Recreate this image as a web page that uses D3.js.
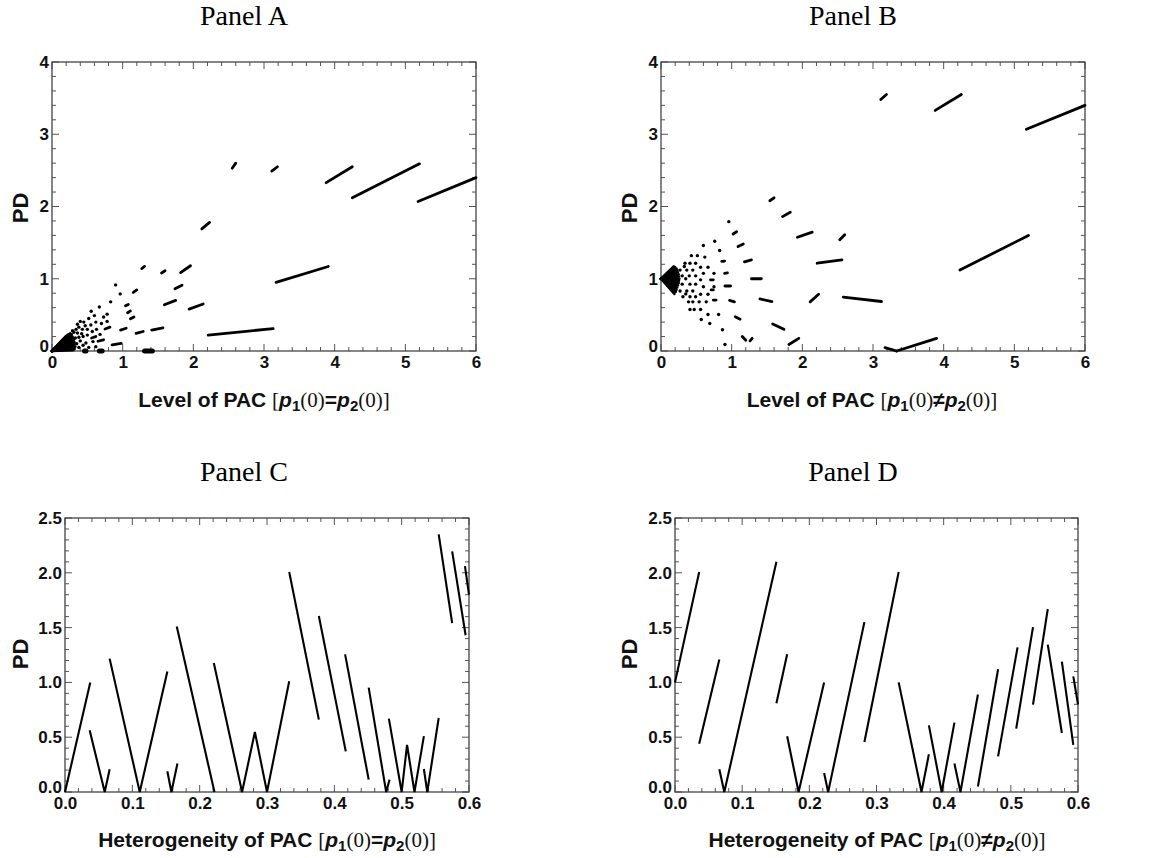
<!DOCTYPE html>
<html>
<head>
<meta charset="utf-8">
<script src="https://cdn.jsdelivr.net/npm/d3@7"></script>
<style>
  body { margin: 0; background: #fff; }
  svg { display: block; }
</style>
</head>
<body>
<svg id="chart" width="1150" height="858"></svg>
<script>
// ---- data ----

// Panel A: segments [x1, y1, x2, y2], dots [x, y], fan end points (rays from 0,0), blobs on the axis
const aSegments = [
  [2.55, 2.53, 2.60, 2.60], [3.11, 2.49, 3.19, 2.55], [3.88, 2.33, 4.25, 2.55],
  [4.25, 2.12, 5.20, 2.59], [5.18, 2.07, 6.00, 2.40], [2.12, 1.69, 2.23, 1.78],
  [3.17, 0.95, 3.91, 1.17], [2.21, 0.22, 3.13, 0.31], [1.82, 1.085, 1.96, 1.18],
  [1.55, 1.08, 1.60, 1.11], [1.27, 1.14, 1.31, 1.17], [1.74, 0.86, 1.84, 0.91],
  [1.59, 0.64, 1.75, 0.70], [1.94, 0.58, 2.14, 0.65], [1.41, 0.29, 1.57, 0.32],
  [1.19, 0.245, 1.29, 0.27], [0.97, 0.29, 1.05, 0.315], [0.75, 0.305, 0.82, 0.33],
  [0.85, 0.085, 0.98, 0.105], [0.65, 0.135, 0.73, 0.155], [1.15, 0.81, 1.20, 0.845],
  [1.04, 0.625, 1.08, 0.645], [1.07, 0.53, 1.11, 0.555], [1.11, 0.445, 1.16, 0.47],
  [0.56, 0.18, 0.62, 0.20]
];
const aBlobs = [[1.31, 0, 1.42, 0], [0.67, 0, 0.71, 0], [0.46, 0, 0.48, 0]];
const aDots = [
  [0.90, 0.915], [0.965, 0.79], [0.83, 0.68], [0.67, 0.61], [0.555, 0.55], [0.40, 0.41],
  [0.45, 0.40], [0.78, 0.51], [0.73, 0.47], [0.60, 0.49], [0.52, 0.45], [0.47, 0.35],
  [0.38, 0.33], [0.43, 0.30], [0.78, 0.41], [0.70, 0.38], [0.62, 0.40], [0.55, 0.36],
  [0.50, 0.30], [0.57, 0.27], [0.63, 0.30], [0.68, 0.23], [0.58, 0.13], [0.50, 0.22],
  [0.44, 0.20], [0.40, 0.14], [0.48, 0.11], [0.36, 0.25], [0.33, 0.18], [0.52, 0.05],
  [0.38, 0.05], [0.62, 0.06], [0.34, 0.30], [0.42, 0.24], [0.36, 0.37], [0.31, 0.26],
  [0.38, 0.19], [0.35, 0.10], [0.44, 0.08], [0.29, 0.28]
];
const aFan = [
  [0.20, 0.21], [0.23, 0.23], [0.26, 0.245], [0.28, 0.23], [0.29, 0.20], [0.30, 0.18],
  [0.31, 0.15], [0.32, 0.12], [0.32, 0.09], [0.33, 0.06], [0.32, 0.03], [0.30, 0.01],
  [0.25, 0.20], [0.27, 0.14], [0.28, 0.08]
];

// Panel B
const bSegments = [
  [3.11, 3.48, 3.19, 3.55], [3.88, 3.33, 4.25, 3.55], [5.17, 3.07, 6.00, 3.40],
  [4.23, 1.12, 5.20, 1.60], [1.54, 2.08, 1.60, 2.12], [1.72, 1.86, 1.83, 1.92],
  [1.93, 1.575, 2.14, 1.645], [2.53, 1.54, 2.60, 1.61], [2.21, 1.215, 2.56, 1.26],
  [2.58, 0.745, 3.12, 0.685], [2.11, 0.68, 2.23, 0.785], [1.40, 0.72, 1.57, 0.685],
  [1.58, 0.375, 1.74, 0.30], [1.81, 0.09, 1.95, 0.175], [3.17, 0.046, 3.335, 0],
  [3.335, 0, 3.90, 0.175], [1.28, 1.00, 1.42, 1.00], [1.18, 1.235, 1.28, 1.26],
  [1.09, 1.445, 1.165, 1.48], [1.02, 1.62, 1.07, 1.65], [1.15, 0.20, 1.20, 0.15],
  [1.26, 0.14, 1.29, 0.175], [0.905, 0.90, 0.985, 0.90], [0.97, 0.70, 1.04, 0.68],
  [1.05, 0.475, 1.12, 0.44], [0.86, 1.24, 0.90, 1.245], [0.90, 1.075, 0.94, 1.08],
  [0.70, 0.985, 0.74, 0.985], [0.74, 0.705, 0.78, 0.705], [0.71, 0.845, 0.74, 0.845]
];
const bDots = [
  [0.96, 1.79], [0.76, 1.52], [0.60, 1.46], [0.83, 1.39], [0.43, 1.32], [0.515, 1.32],
  [0.62, 1.30], [0.34, 1.215], [0.41, 1.215], [0.49, 1.215], [0.56, 1.16], [0.665, 1.16],
  [0.27, 1.12], [0.365, 1.12], [0.45, 1.12], [0.60, 1.075], [0.75, 1.075], [0.30, 1.04],
  [0.40, 1.04], [0.49, 1.04], [0.56, 0.985], [0.30, 0.925], [0.41, 0.925], [0.49, 0.925],
  [0.60, 0.89], [0.75, 0.89], [0.27, 0.83], [0.365, 0.83], [0.45, 0.83], [0.56, 0.785],
  [0.665, 0.785], [0.31, 0.75], [0.41, 0.75], [0.49, 0.75], [0.39, 0.68], [0.45, 0.68],
  [0.54, 0.68], [0.64, 0.68], [0.41, 0.575], [0.47, 0.575], [0.56, 0.575], [0.665, 0.505],
  [0.815, 0.505], [0.57, 0.435], [0.69, 0.38], [0.87, 0.295], [0.905, 0.09],
  [0.33, 1.17], [0.35, 0.79], [0.35, 1.00]
];
const bFan = [
  [0.19, 0.79], [0.21, 0.82], [0.22, 0.85], [0.23, 0.88], [0.24, 0.91], [0.25, 0.94],
  [0.255, 0.97], [0.26, 1.00], [0.255, 1.03], [0.25, 1.06], [0.24, 1.09], [0.23, 1.12],
  [0.22, 1.14], [0.20, 1.16], [0.18, 1.17]
];

// Panel C and D: polylines of [x, y]
const cLines = [
  [[0, 0], [0.0375, 1.0]],
  [[0.0366, 0.563], [0.059, 0], [0.0663, 0.207]],
  [[0.0663, 1.217], [0.111, 0], [0.152, 1.10]],
  [[0.152, 0.19], [0.158, 0], [0.167, 0.26]],
  [[0.166, 1.51], [0.222, 0]],
  [[0.221, 1.177], [0.263, 0], [0.282, 0.547], [0.30, 0], [0.333, 1.01]],
  [[0.333, 2.007], [0.377, 0.66]],
  [[0.377, 1.606], [0.417, 0.371]],
  [[0.416, 1.256], [0.451, 0.113]],
  [[0.451, 0.952], [0.477, 0], [0.482, 0.113]],
  [[0.481, 0.67], [0.50, 0], [0.508, 0.43], [0.519, 0], [0.533, 0.51]],
  [[0.533, 0.21], [0.538, 0], [0.555, 0.675]],
  [[0.555, 2.35], [0.575, 1.54]],
  [[0.575, 2.196], [0.595, 1.43]],
  [[0.594, 2.06], [0.60, 1.80]]
];
const dLines = [
  [[0, 1.0], [0.036, 2.007]],
  [[0.036, 0.44], [0.066, 1.21]],
  [[0.066, 0.207], [0.0734, 0], [0.151, 2.10]],
  [[0.151, 0.81], [0.167, 1.256]],
  [[0.167, 0.508], [0.184, 0], [0.222, 1.0]],
  [[0.222, 0.173], [0.228, 0], [0.282, 1.55]],
  [[0.282, 0.456], [0.333, 2.007]],
  [[0.333, 1.0], [0.367, 0], [0.378, 0.344]],
  [[0.378, 0.608], [0.397, 0], [0.416, 0.633]],
  [[0.416, 0.26], [0.425, 0], [0.451, 0.89]],
  [[0.451, 0.05], [0.481, 1.12]],
  [[0.481, 0.325], [0.51, 1.32]],
  [[0.508, 0.578], [0.533, 1.505]],
  [[0.533, 0.797], [0.555, 1.67]],
  [[0.555, 1.344], [0.576, 0.538]],
  [[0.576, 1.19], [0.593, 0.43]],
  [[0.593, 1.055], [0.60, 0.80]]
];

const levelTicks = [0, 1, 2, 3, 4, 5, 6];
const levelYTicks = [0, 1, 2, 3, 4];
const hetTicks = [0.0, 0.1, 0.2, 0.3, 0.4, 0.5, 0.6];
const hetYTicks = [0.0, 0.5, 1.0, 1.5, 2.0, 2.5];

// ---- layout ----
const svg = d3.select("#chart");
const SANS = "Liberation Sans, Arial, sans-serif";
const SERIF = "Liberation Serif, Times New Roman, serif";

const panels = [
  { title: "Panel A", tx: 244, ty: 25, box: [52, 476, 62, 351], xd: [0, 6], yd: [0, 4],
    xt: levelTicks, yt: levelYTicks, xm: 0.2, ym: 0.2, fmt: d3.format("d"),
    lab: "Level of PAC ", rel: "=", lx: 264, ly: 407, py: 208, px: 20,
    segs: aSegments, blobs: aBlobs, dots: aDots, fan: aFan, origin: [0, 0] },
  { title: "Panel B", tx: 853, ty: 25, box: [661, 1085, 62, 351], xd: [0, 6], yd: [0, 4],
    xt: levelTicks, yt: levelYTicks, xm: 0.2, ym: 0.2, fmt: d3.format("d"),
    lab: "Level of PAC ", rel: "\u2260", lx: 872, ly: 407, py: 208, px: 629,
    segs: bSegments, blobs: [], dots: bDots, fan: bFan, origin: [0, 1] },
  { title: "Panel C", tx: 244, ty: 481, box: [65, 469, 518, 792], xd: [0, 0.6], yd: [0, 2.5],
    xt: hetTicks, yt: hetYTicks, xm: 0.02, ym: 0.1, fmt: d3.format(".1f"),
    lab: "Heterogeneity of PAC ", rel: "=", lx: 267, ly: 847, py: 654, px: 20,
    lines: cLines },
  { title: "Panel D", tx: 853, ty: 481, box: [675, 1078, 518, 792], xd: [0, 0.6], yd: [0, 2.5],
    xt: hetTicks, yt: hetYTicks, xm: 0.02, ym: 0.1, fmt: d3.format(".1f"),
    lab: "Heterogeneity of PAC ", rel: "\u2260", lx: 877, ly: 847, py: 654, px: 629,
    lines: dLines }
];

panels.forEach(p => {
  const [l, r, t, b] = p.box;
  const x = d3.scaleLinear().domain(p.xd).range([l, r]);
  const y = d3.scaleLinear().domain(p.yd).range([b, t]);
  const g = svg.append("g");

  // title
  g.append("text").attr("x", p.tx).attr("y", p.ty)
    .attr("text-anchor", "middle").attr("font-family", SERIF)
    .attr("font-size", 28).text(p.title);

  // minor/major ticks (inward, all four sides)
  const xMinor = d3.range(p.xd[0], p.xd[1] + p.xm / 2, p.xm);
  const yMinor = d3.range(p.yd[0], p.yd[1] + p.ym / 2, p.ym);
  const tk = g.append("g").attr("stroke", "#555").attr("stroke-width", 1);
  xMinor.forEach(v => {
    const major = p.xt.some(m => Math.abs(m - v) < 1e-6);
    const len = major ? 7 : 4;
    tk.append("line").attr("x1", x(v)).attr("x2", x(v)).attr("y1", b).attr("y2", b - len);
    tk.append("line").attr("x1", x(v)).attr("x2", x(v)).attr("y1", t).attr("y2", t + len);
  });
  yMinor.forEach(v => {
    const major = p.yt.some(m => Math.abs(m - v) < 1e-6);
    const len = major ? 7 : 4;
    tk.append("line").attr("y1", y(v)).attr("y2", y(v)).attr("x1", l).attr("x2", l + len);
    tk.append("line").attr("y1", y(v)).attr("y2", y(v)).attr("x1", r).attr("x2", r - len);
  });

  // axes with labels
  const xAxis = d3.axisBottom(x).tickValues(p.xt).tickFormat(p.fmt).tickSize(0).tickPadding(5);
  const yAxis = d3.axisLeft(y).tickValues(p.yt).tickFormat(p.fmt).tickSize(0).tickPadding(3);
  const ax = g.append("g").attr("transform", `translate(0,${b})`).call(xAxis);
  const ay = g.append("g").attr("transform", `translate(${l},0)`).call(yAxis);
  [ax, ay].forEach(a => {
    a.select(".domain").remove();
    a.selectAll("text").attr("font-family", SANS).attr("font-weight", "bold")
      .attr("font-size", 17).attr("fill", "#111");
  });
  // lift the bottom y label so it clears the x label at the corner
  ay.selectAll("text").filter(d => d === p.yd[0]).attr("dy", "0.05em");

  // frame
  g.append("rect").attr("x", l).attr("y", t).attr("width", r - l).attr("height", b - t)
    .attr("fill", "none").attr("stroke", "#444").attr("stroke-width", 1.3);

  // data
  const data = g.append("g").attr("stroke", "#000").attr("fill", "none")
    .attr("stroke-linecap", "round");
  if (p.segs) {
    data.selectAll("line.fan").data(p.fan).join("line").attr("class", "fan")
      .attr("x1", x(p.origin[0])).attr("y1", y(p.origin[1]))
      .attr("x2", d => x(d[0])).attr("y2", d => y(d[1])).attr("stroke-width", 2.6);
    data.selectAll("line.seg").data(p.segs).join("line").attr("class", "seg")
      .attr("x1", d => x(d[0])).attr("y1", d => y(d[1]))
      .attr("x2", d => x(d[2])).attr("y2", d => y(d[3])).attr("stroke-width", 2.8);
    data.selectAll("line.blob").data(p.blobs).join("line").attr("class", "blob")
      .attr("x1", d => x(d[0])).attr("y1", d => y(d[1]))
      .attr("x2", d => x(d[2])).attr("y2", d => y(d[3])).attr("stroke-width", 5);
    data.selectAll("circle").data(p.dots).join("circle")
      .attr("cx", d => x(d[0])).attr("cy", d => y(d[1])).attr("r", 1.7)
      .attr("fill", "#000").attr("stroke", "none");
  }
  if (p.lines) {
    const line = d3.line().x(d => x(d[0])).y(d => y(d[1]));
    data.selectAll("path").data(p.lines).join("path")
      .attr("d", line).attr("stroke-width", 2.1).attr("stroke-linejoin", "miter")
      .attr("stroke-linecap", "butt");
  }

  // axis titles
  const xl = g.append("text").attr("x", p.lx).attr("y", p.ly).attr("text-anchor", "middle")
    .attr("font-family", SANS).attr("font-weight", "bold").attr("font-size", 21).attr("fill", "#111");
  xl.append("tspan").text(p.lab);
  xl.append("tspan").attr("font-family", SERIF).attr("font-weight", "normal").text("[");
  xl.append("tspan").attr("font-style", "italic").text("p");
  xl.append("tspan").attr("font-size", 15).attr("dy", 4).text("1");
  xl.append("tspan").attr("dy", -4).attr("font-family", SERIF).attr("font-weight", "normal").text("(0)");
  xl.append("tspan").text(p.rel);
  xl.append("tspan").attr("font-style", "italic").text("p");
  xl.append("tspan").attr("font-size", 15).attr("dy", 4).text("2");
  xl.append("tspan").attr("dy", -4).attr("font-family", SERIF).attr("font-weight", "normal").text("(0)]");

  g.append("text").attr("transform", `translate(${p.px},${p.py}) rotate(-90)`)
    .attr("text-anchor", "middle").attr("dominant-baseline", "central")
    .attr("font-family", SANS).attr("font-weight", "bold").attr("font-size", 22)
    .attr("fill", "#111").text("PD");
});
</script>
</body>
</html>
